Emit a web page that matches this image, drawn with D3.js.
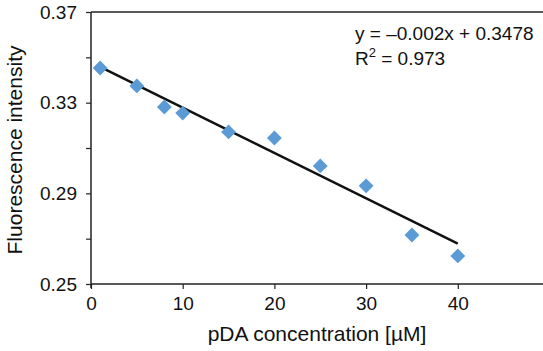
<!DOCTYPE html>
<html>
<head>
<meta charset="utf-8">
<script src="https://d3js.org/d3.v7.min.js"></script>
<style>
  body { margin: 0; background: #fff; }
  text { font-family: "Liberation Sans", Arial, sans-serif; fill: #111; }
</style>
</head>
<body>
<svg width="543" height="351"></svg>
<script>
// pDA concentration (µM) and measured fluorescence
const conc = [1, 5, 8, 10, 15, 20, 25, 30, 35, 40];
const intensity = [0.3453, 0.3374, 0.3281, 0.3254, 0.3171, 0.3144, 0.3021, 0.2933, 0.2716, 0.2624];
const yTicks = [0.25, 0.27, 0.29, 0.31, 0.33, 0.35, 0.37];
const yLabelTicks = [0.25, 0.29, 0.33, 0.37];
const xTicks = [0, 10, 20, 30, 40];
const slope = -0.002, intercept = 0.3478, r2 = 0.973;

const svg = d3.select("svg");
const plotLeft = 91, plotTop = 12, plotBottom = 284;

const x = d3.scaleLinear().domain([0, 50]).range([plotLeft, plotLeft + 458.5]);
const y = d3.scaleLinear().domain([0.25, 0.37]).range([plotBottom, plotTop]);

// frame top line
svg.append("line")
  .attr("x1", plotLeft).attr("x2", 543)
  .attr("y1", plotTop).attr("y2", plotTop)
  .attr("stroke", "#222").attr("stroke-width", 1.5);

// y axis
const yAxis = svg.append("g")
  .attr("transform", "translate(" + plotLeft + ",0)")
  .call(d3.axisLeft(y).tickValues(yTicks).tickSize(5)
    .tickFormat(d => yLabelTicks.some(v => Math.abs(v - d) < 1e-9) ? d3.format(".2f")(d) : ""));
yAxis.select(".domain").attr("d", "M0," + plotTop + "V" + (plotBottom + 4)).attr("stroke", "#222").attr("stroke-width", 1.5);
yAxis.selectAll(".tick line").attr("stroke", "#222").attr("stroke-width", 1.2);
yAxis.selectAll(".tick text").attr("x", -14).style("font-size", "19px").style("font-family", "Liberation Sans, Arial, sans-serif").attr("fill", "#111");

// x axis
const xAxis = svg.append("g")
  .attr("transform", "translate(0," + plotBottom + ")")
  .call(d3.axisBottom(x).tickValues(xTicks).tickSize(5).tickFormat(d3.format("d")));
xAxis.select(".domain").attr("d", "M" + plotLeft + ",0H543").attr("stroke", "#222").attr("stroke-width", 1.5);
xAxis.selectAll(".tick line").attr("stroke", "#222").attr("stroke-width", 1.2);
xAxis.selectAll(".tick text").attr("y", 13).style("font-size", "19px").style("font-family", "Liberation Sans, Arial, sans-serif").attr("fill", "#111");

// trend line
const fit = [conc[0], conc[conc.length - 1]].map(c => [c, slope * c + intercept]);
svg.append("path")
  .attr("d", d3.line().x(d => x(d[0])).y(d => y(d[1]))(fit))
  .attr("stroke", "#111").attr("stroke-width", 2.5).attr("fill", "none");

// markers
const diamond = d3.symbol().type(d3.symbolSquare).size(110);
svg.append("g").selectAll("path")
  .data(conc.map((c, i) => [c, intensity[i]]))
  .join("path")
  .attr("d", diamond)
  .attr("transform", d => "translate(" + x(d[0]) + "," + y(d[1]) + ") rotate(45)")
  .attr("fill", "#5b9bd5");

// equation
const eq = svg.append("text").attr("x", 355).attr("y", 40).style("font-size", "19px");
eq.text("y = \u2013" + Math.abs(slope) + "x + " + intercept);
const r = svg.append("text").attr("x", 355).attr("y", 65).style("font-size", "19px");
r.append("tspan").text("R");
r.append("tspan").attr("dy", -8).style("font-size", "13px").text("2");
r.append("tspan").attr("dy", 8).text(" = " + r2);

// axis titles
svg.append("text")
  .attr("x", 317).attr("y", 341)
  .attr("text-anchor", "middle").style("font-size", "21px")
  .text("pDA concentration [\u00b5M]");
svg.append("text")
  .attr("transform", "translate(22,150) rotate(-90)")
  .attr("text-anchor", "middle").style("font-size", "21px")
  .text("Fluorescence intensity");
</script>
</body>
</html>
